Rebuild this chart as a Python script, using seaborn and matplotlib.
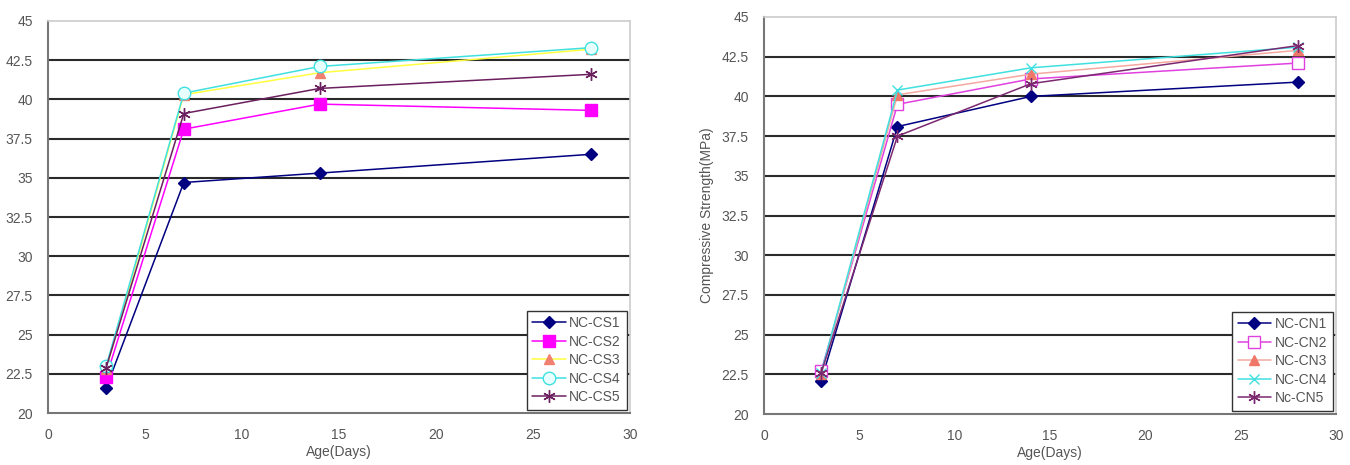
import matplotlib
matplotlib.use("Agg")
import matplotlib.pyplot as plt
import seaborn as sns

# curing age (days)
ages = [3, 7, 14, 28]

# left panel: NC-CS series
cs_labels = ["NC-CS1", "NC-CS2", "NC-CS3", "NC-CS4", "NC-CS5"]
cs1 = [21.6, 34.7, 35.3, 36.5]
cs2 = [22.3, 38.1, 39.7, 39.3]
cs3 = [22.8, 40.3, 41.7, 43.2]
cs4 = [23.0, 40.4, 42.1, 43.3]
cs5 = [22.9, 39.1, 40.7, 41.6]

# right panel: NC-CN series
cn_labels = ["NC-CN1", "NC-CN2", "NC-CN3", "NC-CN4", "Nc-CN5"]
cn1 = [22.1, 38.1, 40.0, 40.9]
cn2 = [22.7, 39.5, 41.1, 42.1]
cn3 = [22.5, 40.1, 41.4, 42.9]
cn4 = [22.6, 40.4, 41.8, 43.1]
cn5 = [22.6, 37.5, 40.8, 43.2]

x_ticks = [0, 5, 10, 15, 20, 25, 30]
y_ticks = [20, 22.5, 25, 27.5, 30, 32.5, 35, 37.5, 40, 42.5, 45]
y_tick_labels = ["20", "22.5", "25", "27.5", "30", "32.5", "35", "37.5", "40", "42.5", "45"]

star = (6, 2, 0)

cs_styles = [
    dict(color="#000080", marker="D", markersize=6.5, markerfacecolor="#000080", markeredgecolor="#000080"),
    dict(color="#FF00FF", marker="s", markersize=8.5, markerfacecolor="#FF00FF", markeredgecolor="#FF00FF"),
    dict(color="#FFFF40", marker="^", markersize=7.5, markerfacecolor="#F08070", markeredgecolor="#F08070"),
    dict(color="#40E0E0", marker="o", markersize=9, markerfacecolor="#E8FFFF", markeredgecolor="#40E0E0"),
    dict(color="#6B1F5E", marker=star, markersize=9, markerfacecolor="#6B1F5E", markeredgecolor="#6B1F5E"),
]
cn_styles = [
    dict(color="#000080", marker="D", markersize=6.5, markerfacecolor="#000080", markeredgecolor="#000080"),
    dict(color="#E040E0", marker="s", markersize=8.5, markerfacecolor="white", markeredgecolor="#E040E0"),
    dict(color="#F4A8A0", marker="^", markersize=7.5, markerfacecolor="#F07868", markeredgecolor="#F07868"),
    dict(color="#40E0E0", marker="x", markersize=7, markerfacecolor="#40E0E0", markeredgecolor="#40E0E0"),
    dict(color="#7B2870", marker=star, markersize=9, markerfacecolor="#7B2870", markeredgecolor="#7B2870"),
]

sns.set_style("white")
plt.rcParams["font.family"] = ["Liberation Sans", "DejaVu Sans"]
text_col = "#555555"

fig = plt.figure(figsize=(13.5, 4.65), dpi=100)
ax_l = fig.add_axes([48 / 1350, 1 - 413 / 465, (630 - 48) / 1350, (413 - 21) / 465])
ax_r = fig.add_axes([764 / 1350, 1 - 414 / 465, (1336 - 764) / 1350, (414 - 17) / 465])


def draw_panel(ax, series, labels, styles):
    for vals, lab, st in zip(series, labels, styles):
        sns.lineplot(x=ages, y=vals, ax=ax, label=lab, linewidth=1.1,
                     markeredgewidth=1.0, **st)
    ax.set_xlim(0, 30)
    ax.set_ylim(20, 45)
    ax.set_xticks(x_ticks)
    ax.set_yticks(y_ticks)
    ax.set_yticklabels(y_tick_labels)
    ax.tick_params(axis="both", labelsize=10, colors=text_col, length=3,
                   width=1, direction="out")
    ax.tick_params(axis="x", pad=8)
    ax.tick_params(axis="y", pad=8)
    ax.yaxis.grid(True, color="#2a2a2a", linewidth=1.5)
    ax.set_axisbelow(True)
    gl = ax.get_ygridlines()
    gl[0].set_visible(False)
    gl[-1].set_visible(False)
    for side in ["left", "bottom"]:
        ax.spines[side].set_color("#777777")
        ax.spines[side].set_linewidth(1.5)
    for side in ["top", "right"]:
        ax.spines[side].set_color("#cccccc")
        ax.spines[side].set_linewidth(1.2)
    ax.set_xlabel("Age(Days)", fontsize=10, color=text_col, labelpad=2)
    ax.set_ylabel("Compressive Strength(MPa)", fontsize=10, color=text_col)
    leg = ax.legend(loc="lower right", fontsize=10, frameon=True, fancybox=False,
                    edgecolor="#333333", framealpha=1, handlelength=2.4,
                    handletextpad=0.25, labelspacing=0.32, borderpad=0.4,
                    borderaxespad=0.25)
    leg.get_frame().set_linewidth(1.0)
    for t in leg.get_texts():
        t.set_color(text_col)


draw_panel(ax_l, [cs1, cs2, cs3, cs4, cs5], cs_labels, cs_styles)
draw_panel(ax_r, [cn1, cn2, cn3, cn4, cn5], cn_labels, cn_styles)

# left y label sits mostly outside the image, as in the source
ax_l.yaxis.set_label_coords(-52 / 582, 0.5)
ax_r.yaxis.set_label_coords(-50 / 572, 0.5)

fig.savefig("out.png", dpi=100)
